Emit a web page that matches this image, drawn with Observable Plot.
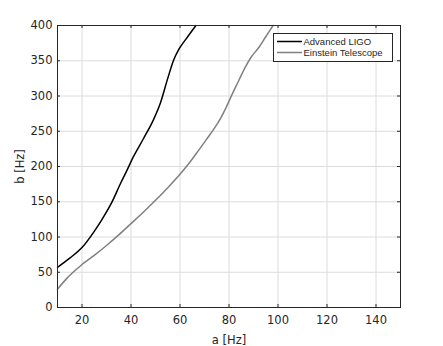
<!DOCTYPE html>
<html>
<head>
<meta charset="utf-8">
<script src="https://cdn.jsdelivr.net/npm/d3@7"></script>
<script src="https://cdn.jsdelivr.net/npm/@observablehq/plot@0.6"></script>
<style>
  html, body { margin: 0; padding: 0; background: #fff; }
  #chart { width: 443px; height: 346px; }
</style>
</head>
<body>
<div id="chart"></div>
<script>
const seriesNames = ["Advanced LIGO", "Einstein Telescope"];
const seriesColors = ["#000000", "#808080"];

const ligoA = [10, 15, 20, 25, 28, 32, 36, 38, 41, 45, 49, 52, 55, 57.3, 59.5, 62.5, 66.5];
const ligoB = [57, 70, 85, 108, 124, 148, 178, 192, 214, 239, 265, 290, 325, 350, 366, 381, 400];

const etA = [10, 14, 18, 20, 25, 30, 35, 40, 45, 50, 55, 60, 64, 67, 70.5, 74, 76.5, 79, 81.5, 84, 86.5, 89, 92, 95, 98];
const etB = [26, 42, 55, 61, 74, 88, 103, 119, 135, 152, 170, 189, 206, 220, 237, 254, 268, 285, 304, 322, 340, 355, 368, 384, 400];

const xTicks = [20, 40, 60, 80, 100, 120, 140];
const yTicks = [0, 50, 100, 150, 200, 250, 300, 350, 400];
const xDomain = [10, 150];
const yDomain = [0, 400];

const data = [
  ...ligoA.map((a, i) => ({a, b: ligoB[i], s: seriesNames[0]})),
  ...etA.map((a, i) => ({a, b: etB[i], s: seriesNames[1]}))
];

const W = 443, H = 346;
const mL = 57, mR = 43, mT = 25, mB = 39;
const frameH = H - mT - mB, frameW = W - mL - mR;
const axisColor = "#262626";
const tickFont = "DejaVu Sans";

const plot = Plot.plot({
  width: W, height: H,
  marginLeft: mL, marginRight: mR, marginTop: mT, marginBottom: mB,
  style: {fontFamily: tickFont, fontSize: "11.5px", color: axisColor, background: "#fff"},
  x: {domain: xDomain},
  y: {domain: yDomain},
  color: {domain: seriesNames, range: seriesColors},
  marks: [
    Plot.gridX(xTicks, {stroke: "#dcdcdc", strokeOpacity: 1}),
    Plot.gridY(yTicks, {stroke: "#dcdcdc", strokeOpacity: 1}),
    Plot.tickX(xTicks, {x: d => d, insetTop: frameH - 3, stroke: axisColor}),
    Plot.tickX(xTicks, {x: d => d, insetBottom: frameH - 3, stroke: axisColor}),
    Plot.tickY(yTicks, {y: d => d, insetRight: frameW - 3, stroke: axisColor}),
    Plot.tickY(yTicks, {y: d => d, insetLeft: frameW - 3, stroke: axisColor}),
    Plot.line(data, {x: "a", y: "b", z: "s", stroke: "s", strokeWidth: 1.5, curve: "monotone-x"}),
    Plot.axisX(xTicks, {tickSize: 0, tickPadding: 8, label: "a [Hz]", labelAnchor: "center", labelArrow: "none", fontSize: 11.5}),
    Plot.axisY(yTicks, {tickSize: 0, tickPadding: 5, label: "b [Hz]", labelAnchor: "center", labelArrow: "none", labelOffset: 42, fontSize: 11.5}),
    Plot.frame({stroke: axisColor})
  ]
});

document.getElementById("chart").appendChild(plot);

// Legend inside the plot, top-right
const svg = d3.select(plot);
const lg = svg.append("g").attr("transform", `translate(${W - mR - 127},${mT + 8})`)
  .attr("text-anchor", "start");
lg.append("rect").attr("x", 0.5).attr("y", 0.5).attr("width", 119).attr("height", 28)
  .attr("fill", "#fff").attr("stroke", axisColor).attr("stroke-width", 1);
seriesNames.forEach((name, i) => {
  const cy = 8.5 + i * 11;
  lg.append("line").attr("x1", 4).attr("x2", 29).attr("y1", cy).attr("y2", cy)
    .attr("stroke", seriesColors[i]).attr("stroke-width", 1.5);
  lg.append("text").attr("x", 30.5).attr("y", cy).attr("dy", "0.35em")
    .attr("text-anchor", "start")
    .attr("font-family", "Liberation Sans").attr("font-size", "9.5px").attr("fill", axisColor)
    .text(name);
});
</script>
</body>
</html>
